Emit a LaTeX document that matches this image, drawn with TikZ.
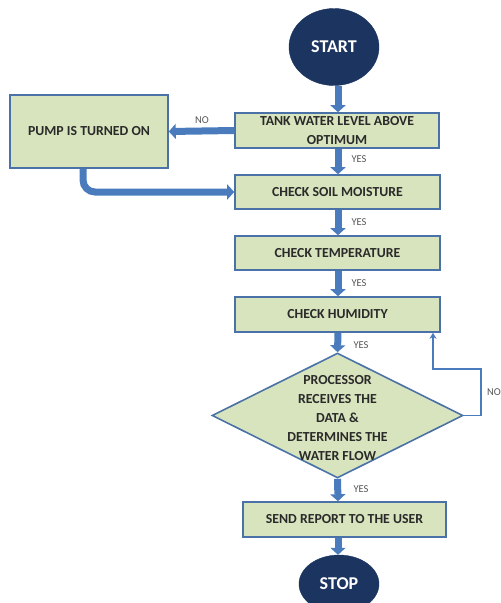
\documentclass[tikz,border=0pt]{standalone}
\usepackage{fontspec}
\setmainfont{Carlito}
\usetikzlibrary{shapes.geometric,arrows.meta}
\definecolor{boxgreen}{HTML}{D7E4BD}
\definecolor{boxblue}{HTML}{4A72A8}
\definecolor{navy}{HTML}{1B3560}
\definecolor{arrblue}{HTML}{4A7CBD}
\definecolor{txt}{HTML}{2A2A2A}
\definecolor{lbl}{HTML}{555555}
\tikzset{
  stepbox/.style={rectangle, fill=boxgreen, draw=boxblue, line width=1.6pt,
    text=txt, font=\bfseries\fontsize{13.8}{19.5}\selectfont, align=center, inner sep=0pt},
  term/.style={ellipse, fill=navy, draw=navy, text=white, inner sep=0pt,
    font=\bfseries\fontsize{18}{20}\selectfont},
  big/.style={line width=7pt, draw=arrblue, -{Triangle[width=15pt,length=7pt]}},
  thin/.style={line width=1.8pt, draw=arrblue, -{Stealth[width=7pt,length=6pt]}},
  lab/.style={text=lbl, font=\fontsize{10.5}{11}\selectfont, inner sep=0pt},
}
\begin{document}
\begin{tikzpicture}[x=1pt,y=-1pt]
\useasboundingbox (0,0) rectangle (501,603);
\node[term, minimum width=90pt, minimum height=77pt] (start) at (334,47) {START};
\node[stepbox, minimum width=204pt, minimum height=35pt] (tank) at (337,130.5) {TANK WATER LEVEL ABOVE\\OPTIMUM};
\node[stepbox, minimum width=158pt, minimum height=73pt] (pump) at (89,131.5) {PUMP IS TURNED ON};
\node[stepbox, minimum width=205pt, minimum height=34pt] (soil) at (337.5,192) {CHECK SOIL MOISTURE};
\node[stepbox, minimum width=205pt, minimum height=34pt] (temp) at (337.5,253) {CHECK TEMPERATURE};
\node[stepbox, minimum width=205pt, minimum height=35pt] (hum) at (337.5,314.5) {CHECK HUMIDITY};
\node[diamond, fill=boxgreen, draw=boxblue, line width=1.6pt, minimum width=251pt, minimum height=125pt, inner sep=0pt] (proc) at (337.5,415.5) {};
\node[text=txt, font=\bfseries\fontsize{13.8}{19}\selectfont, align=center] (proctext) at (337.5,418) {PROCESSOR\\RECEIVES THE\\DATA \&\\DETERMINES THE\\WATER FLOW};
\node[stepbox, minimum width=203pt, minimum height=35pt] (send) at (344.5,519.5) {SEND REPORT TO THE USER};
\node[term, minimum width=80pt, minimum height=58pt] (stop) at (339,584) {STOP};

\coordinate (c1) at (481,415.5);
\coordinate (c2) at (481,369);
\coordinate (c3) at (433,369);

\draw[big] (start.south -| 338,0) -- (tank.north -| 338,0);
\draw[big] (tank.west) -- (pump.east);
\draw[big, rounded corners=12pt] (pump.south -| 83,0) |- (soil.west);
\draw[big] (tank.south -| 338,0) -- (soil.north -| 338,0);
\draw[big] (soil.south -| 338,0) -- (temp.north -| 338,0);
\draw[big] (temp.south -| 338,0) -- (hum.north -| 338,0);
\draw[big] (hum.south -| 338,0) -- (proc.north);
\draw[big] (proc.south) -- (send.north -| 338,0);
\draw[big] (send.south -| 338,0) -- (stop.north -| 338,0);
\draw[thin] (proc.east) -- (c1) -- (c2) -- (c3) -- (hum.south -| c3);

\node[lab] (no1) at (202,120) {NO};
\node[lab] (y1) at (359,159) {YES};
\node[lab] (y2) at (359,222) {YES};
\node[lab] (y3) at (359,283) {YES};
\node[lab] (y4) at (361,345) {YES};
\node[lab] (y5) at (361,489) {YES};
\node[lab, anchor=west] (no2) at (487,392) {NO};
\end{tikzpicture}
\end{document}
